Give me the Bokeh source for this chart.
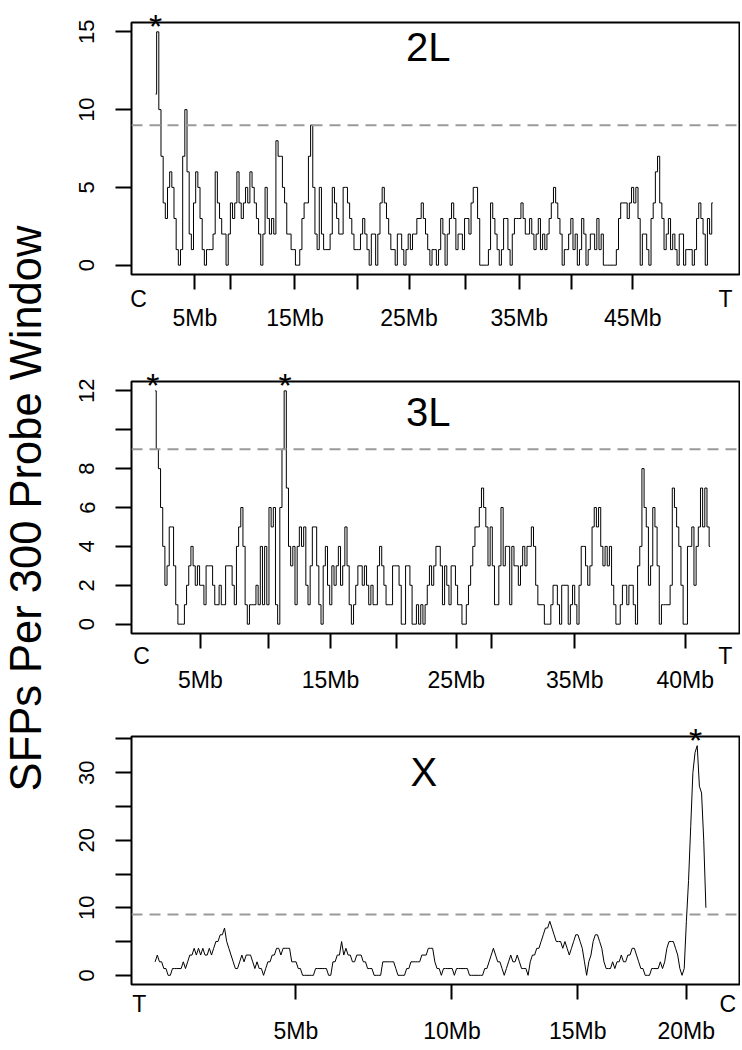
import math
from bokeh.plotting import figure
from bokeh.models import Range1d, FixedTicker, Span, Label, LinearAxis
from bokeh.layouts import column, row
from bokeh.embed import file_html
from bokeh.resources import INLINE
from bokeh.core.properties import value

FONT = "Liberation Sans"

# SFP counts per 300-probe window (sliding along the chromosome arm, window index)
sfp_2L = [11, 15, 10, 7, 4, 3, 5, 6, 5, 3,
          1, 0, 1, 7, 10, 6, 2, 1, 4, 6,
          5, 3, 1, 0, 1, 1, 1, 2, 6, 4,
          3, 2, 2, 0, 2, 4, 3, 4, 6, 4,
          3, 4, 5, 4, 6, 5, 4, 3, 2, 0,
          2, 5, 3, 2, 3, 2, 8, 7, 7, 5,
          4, 2, 2, 1, 1, 0, 0, 1, 3, 4,
          4, 7, 9, 5, 2, 1, 5, 2, 1, 1,
          1, 2, 5, 4, 3, 2, 2, 5, 5, 4,
          3, 2, 1, 1, 1, 2, 3, 2, 1, 0,
          2, 2, 0, 2, 4, 5, 4, 3, 2, 1,
          1, 0, 2, 2, 1, 0, 1, 2, 1, 2,
          2, 3, 3, 4, 3, 2, 1, 0, 1, 1,
          0, 1, 3, 2, 0, 2, 3, 4, 3, 1,
          2, 2, 1, 3, 3, 2, 4, 5, 5, 3,
          0, 0, 0, 0, 1, 4, 3, 2, 1, 0,
          1, 3, 3, 1, 0, 2, 3, 3, 3, 4,
          3, 2, 2, 3, 2, 1, 2, 3, 1, 2,
          1, 2, 3, 4, 5, 4, 3, 2, 0, 1,
          1, 2, 3, 1, 2, 0, 1, 3, 2, 0,
          1, 2, 2, 1, 3, 1, 2, 0, 0, 0,
          0, 0, 0, 1, 3, 4, 4, 4, 3, 4,
          5, 4, 5, 3, 0, 2, 2, 1, 0, 3,
          4, 6, 7, 4, 3, 1, 2, 3, 1, 2,
          1, 0, 2, 2, 0, 1, 1, 1, 0, 1,
          3, 4, 3, 2, 0, 3, 2, 4]

sfp_3L = [12, 9, 8, 6, 4, 2, 3, 5, 5, 3,
          1, 0, 0, 0, 1, 2, 3, 4, 3, 2,
          3, 2, 2, 1, 3, 3, 3, 2, 1, 1,
          2, 1, 1, 3, 3, 3, 2, 1, 4, 5,
          6, 4, 1, 0, 1, 1, 1, 2, 1, 4,
          1, 4, 1, 6, 5, 6, 1, 0, 6, 9,
          12, 7, 4, 3, 4, 1, 4, 5, 4, 5,
          2, 1, 3, 5, 5, 3, 1, 0, 3, 4,
          2, 1, 3, 2, 3, 4, 2, 3, 5, 3,
          1, 0, 1, 2, 3, 3, 2, 3, 2, 1,
          2, 1, 1, 3, 4, 3, 2, 1, 1, 1,
          3, 3, 3, 2, 0, 0, 3, 3, 2, 0,
          0, 1, 0, 1, 0, 1, 2, 3, 2, 3,
          4, 4, 3, 1, 3, 2, 1, 3, 3, 2,
          1, 1, 0, 0, 1, 2, 3, 4, 5, 5,
          6, 7, 6, 5, 3, 5, 3, 1, 1, 3,
          6, 3, 4, 4, 1, 4, 3, 3, 2, 3,
          4, 3, 4, 4, 5, 4, 2, 1, 1, 1,
          0, 0, 0, 1, 2, 2, 1, 0, 2, 2,
          2, 0, 1, 2, 1, 0, 2, 4, 4, 3,
          2, 3, 5, 6, 5, 6, 4, 3, 4, 3,
          4, 2, 1, 0, 0, 1, 2, 2, 1, 2,
          2, 1, 0, 3, 4, 8, 6, 5, 2, 3,
          6, 5, 3, 0, 1, 1, 1, 1, 2, 7,
          6, 5, 4, 2, 0, 0, 4, 4, 5, 2,
          4, 5, 7, 5, 7, 5, 4]

sfp_X = [2, 3, 2, 2, 1, 1, 0, 0, 1, 1,
         1, 1, 1, 2, 1, 2, 3, 3, 4, 3,
         4, 3, 4, 3, 3, 4, 3, 4, 5, 5,
         6, 6, 7, 5, 4, 3, 2, 1, 1, 2,
         3, 2, 3, 3, 3, 2, 1, 2, 1, 1,
         0, 1, 2, 2, 3, 3, 4, 4, 3, 4,
         4, 4, 4, 2, 2, 2, 1, 1, 0, 0,
         0, 0, 0, 0, 1, 1, 1, 1, 1, 1,
         0, 0, 2, 2, 3, 3, 5, 3, 4, 3,
         3, 2, 2, 3, 3, 3, 2, 2, 1, 1,
         1, 0, 0, 0, 0, 2, 2, 2, 2, 2,
         2, 1, 0, 0, 0, 0, 1, 1, 2, 2,
         2, 2, 2, 3, 3, 3, 4, 4, 4, 2,
         1, 1, 0, 1, 1, 1, 1, 1, 0, 1,
         1, 1, 1, 1, 1, 0, 0, 0, 0, 0,
         0, 0, 1, 1, 2, 3, 4, 3, 2, 2,
         1, 0, 1, 2, 3, 2, 2, 3, 2, 1,
         1, 1, 0, 2, 3, 3, 4, 4, 5, 6,
         7, 7, 8, 7, 6, 5, 5, 5, 4, 5,
         4, 3, 4, 5, 6, 6, 5, 4, 2, 0,
         2, 3, 5, 6, 6, 5, 4, 2, 1, 1,
         1, 2, 1, 2, 2, 3, 2, 2, 3, 3,
         4, 4, 3, 2, 1, 1, 0, 0, 0, 1,
         1, 1, 1, 2, 1, 2, 4, 5, 5, 5,
         4, 3, 1, 0, 1, 8, 14, 22, 30, 33,
         34, 28, 27, 20, 10]

THRESHOLD = 9
YLABEL = "SFPs Per 300 Probe Window"

# x-axis ticks (window index) and their labels
xticks_2L = [18.1, 34.7, 64.3, 92.9, 116.9, 142.9, 167.7, 191.7, 220.1]
xlabels_2L = ["5Mb", "", "15Mb", "", "25Mb", "", "35Mb", "", "45Mb"]
xticks_3L = [20.9, 52.3, 80.9, 111.5, 138.9, 155.3, 193.5, 244.5]
xlabels_3L = ["5Mb", "", "15Mb", "", "25Mb", "", "35Mb", "40Mb"]
xticks_X = [64.9, 136.9, 194.9, 244.9]
xlabels_X = ["5Mb", "10Mb", "15Mb", "20Mb"]

# arm end markers (centromere / telomere)
ends_2L = [-7.8, 262.8]
endlabels_2L = ["C", "T"]
ends_3L = [-6.3, 262.9]
endlabels_3L = ["C", "T"]
ends_X = [-7.3, 264.1]
endlabels_X = ["T", "C"]

# y-axis ticks and labels
yticks_2L = [0, 5, 10, 15]
ylabels_2L = ["0", "5", "10", "15"]
yticks_3L = [0, 2, 4, 6, 8, 10, 12]
ylabels_3L = ["0", "2", "4", "6", "8", "", "12"]
yticks_X = [0, 5, 10, 15, 20, 25, 30, 35]
ylabels_X = ["0", "", "10", "", "20", "", "30", ""]

# significant peaks (window index)
stars_2L = [0]
stars_3L = [-1, 60]
stars_X = [249.3]


def make_panel(vals, ymax, yticks, ylabels, xticks, xlabels, ends, endlabels,
               stars, name, name_x, name_y, height, btop, bbottom,
               end_standoff, mb_standoff, smooth, xr):
    pad = 0.04 * ymax
    p = figure(width=680, height=height, output_backend="svg", toolbar_location=None,
               x_range=Range1d(*xr), y_range=Range1d(-pad, ymax + pad),
               x_axis_type=None, y_axis_type=None,
               min_border_left=71, min_border_right=1,
               min_border_top=btop, min_border_bottom=bbottom)
    p.outline_line_color = "black"
    p.outline_line_width = 2
    p.background_fill_color = "white"
    p.border_fill_color = "white"

    # y axis
    ya = LinearAxis(ticker=FixedTicker(ticks=yticks, minor_ticks=[]),
                    major_label_overrides={t: l for t, l in zip(yticks, ylabels)},
                    major_tick_out=16, major_tick_in=0,
                    minor_tick_out=0, minor_tick_in=0,
                    major_tick_line_width=2, major_tick_line_color="black",
                    axis_line_color=None,
                    major_label_orientation="vertical", major_label_standoff=21,
                    major_label_text_font=FONT, major_label_text_font_size="22px",
                    major_label_text_color="black")
    p.add_layout(ya, "left")

    # x axis 1: tick marks (minor) + arm-end letters (major, no marks)
    xa1 = LinearAxis(ticker=FixedTicker(ticks=ends, minor_ticks=xticks),
                     major_label_overrides={t: l for t, l in zip(ends, endlabels)},
                     major_tick_out=0, major_tick_in=0,
                     minor_tick_out=15, minor_tick_in=0,
                     minor_tick_line_width=2, minor_tick_line_color="black",
                     axis_line_color=None, major_label_standoff=end_standoff,
                     major_label_text_font=FONT, major_label_text_font_size="23px",
                     major_label_text_color="black")
    p.add_layout(xa1, "below")

    # x axis 2: Mb labels
    lab_ticks = [t for t, l in zip(xticks, xlabels) if l]
    lab_text = [l for l in xlabels if l]
    xa2 = LinearAxis(ticker=FixedTicker(ticks=lab_ticks, minor_ticks=[]),
                     major_label_overrides={t: l for t, l in zip(lab_ticks, lab_text)},
                     major_tick_out=0, major_tick_in=0,
                     minor_tick_out=0, minor_tick_in=0,
                     axis_line_color=None,
                     major_label_standoff=mb_standoff,
                     major_label_text_font=FONT, major_label_text_font_size="23px",
                     major_label_text_color="black")
    p.add_layout(xa2, "below")

    # significance asterisks above the frame
    sa = LinearAxis(ticker=FixedTicker(ticks=stars, minor_ticks=[]),
                    major_label_overrides={t: "*" for t in stars},
                    major_tick_out=0, major_tick_in=0,
                    minor_tick_out=0, minor_tick_in=0,
                    axis_line_color=None, major_label_standoff=-22,
                    major_label_text_font=FONT, major_label_text_font_size="34px",
                    major_label_text_color="black")
    p.add_layout(sa, "above")

    p.add_layout(Span(location=THRESHOLD, dimension="width", line_color="#9a9a9a",
                      line_width=2, line_dash="11 7"))

    xs = list(range(len(vals)))
    if smooth:
        p.line(xs, vals, line_color="black", line_width=1)
    else:
        p.step(xs, vals, mode="center", line_color="black", line_width=1)

    p.add_layout(Label(x=name_x, y=name_y, text=name, text_font=FONT,
                       text_font_size="40px", text_align="center",
                       text_baseline="middle", text_color="black"))
    return p


p1 = make_panel(sfp_2L, 15, yticks_2L, ylabels_2L, xticks_2L, xlabels_2L,
                ends_2L, endlabels_2L, stars_2L, "2L", 125.7, 14.0,
                343, 22, 69, -4, -10, False, (-11.1, 269.3))
p2 = make_panel(sfp_3L, 12, yticks_3L, ylabels_3L, xticks_3L, xlabels_3L,
                ends_3L, endlabels_3L, stars_3L, "3L", 125.9, 10.9,
                359, 38, 69, -6, -5, False, (-10.9, 269.5))
p3 = make_panel(sfp_X, 34, yticks_X, ylabels_X, xticks_X, xlabels_X,
                ends_X, endlabels_X, stars_X, "X", 123.9, 30.1,
                346, 34, 64, -9, -2, True, (-10.9, 269.5))

TOTAL_H = 343 + 359 + 346
lab = figure(width=60, height=TOTAL_H, output_backend="svg", toolbar_location=None,
             x_range=Range1d(0, 60), y_range=Range1d(0, TOTAL_H),
             x_axis_type=None, y_axis_type=None,
             min_border_left=0, min_border_right=0, min_border_top=0, min_border_bottom=0)
lab.outline_line_color = None
lab.background_fill_color = "white"
lab.border_fill_color = "white"
lab.text(x=[25.5], y=[TOTAL_H - 508], text=[YLABEL], angle=math.pi / 2,
         text_font=value(FONT), text_font_size=value("43.5px"),
         text_align="center", text_baseline="middle", text_color="black")

layout = row(lab, column(p1, p2, p3))
open("out.html", "w").write(file_html(layout, INLINE))
